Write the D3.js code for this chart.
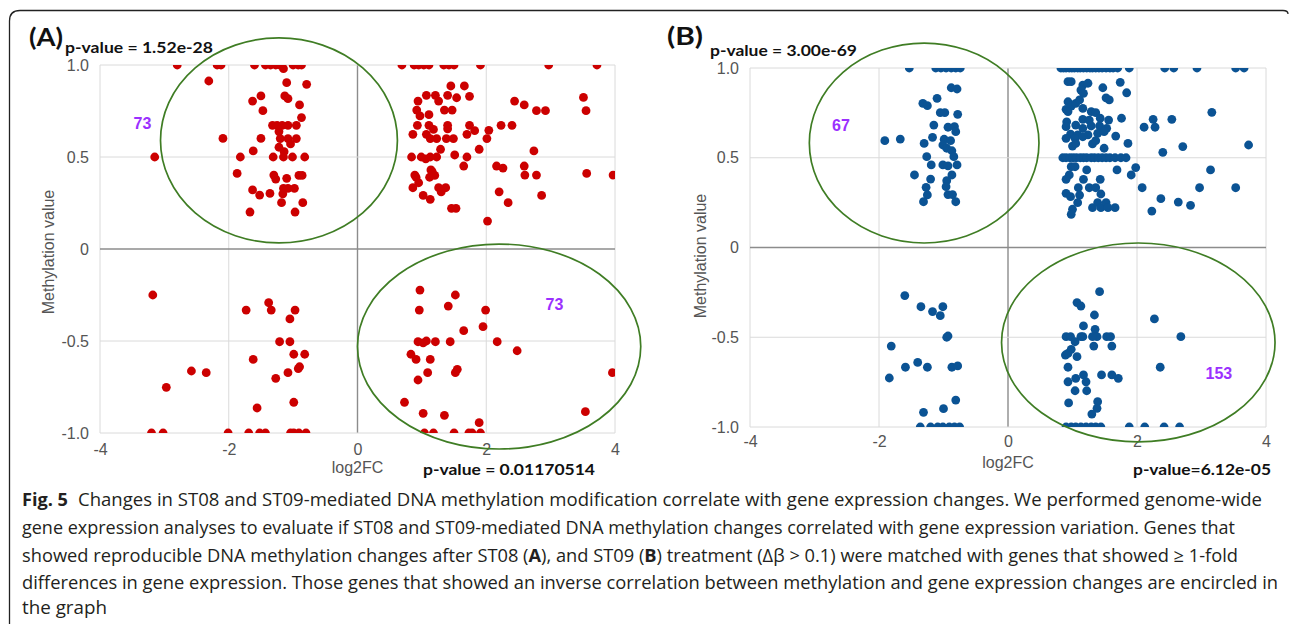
<!DOCTYPE html>
<html><head><meta charset="utf-8">
<script src="https://cdn.jsdelivr.net/npm/d3@7"></script>
<style>
html,body{margin:0;padding:0;background:#fff;}
svg{display:block;}
</style></head>
<body>
<svg id="chart" width="1290" height="624"></svg>
<script>
// ---------------- DATA ----------------
const xTicks = [-4, -2, 0, 2, 4];
const xTickLabels = ["-4", "-2", "0", "2", "4"];
const yTicks = [1, 0.5, 0, -0.5, -1];
const yTickLabels = ["1.0", "0.5", "0", "-0.5", "-1.0"];

// Panel A (ST08): [log2FC, methylation]
const aUpperLeftTopRow = [-2.80, -2.18, -2.12, -1.60, -1.43, -1.35, -1.27, -1.21, -1.00, -0.92, -0.87];
const aUpperLeft = [[-1.15,0.98],[-2.31,0.913],[-1.10,0.904],[-0.79,0.895],[-1.63,0.804],[-1.50,0.832],[-1.13,0.832],[-1.08,0.817],[-0.90,0.783],[-1.47,0.752],[-0.87,0.714],[-1.32,0.672],[-1.25,0.672],[-1.17,0.672],[-1.08,0.672],[-0.95,0.672],[-1.22,0.638],[-2.09,0.601],[-1.50,0.601],[-1.20,0.60],[-1.08,0.60],[-0.95,0.60],[-1.04,0.571],[-1.22,0.553],[-1.62,0.533],[-3.15,0.50],[-1.82,0.50],[-1.31,0.50],[-1.15,0.50],[-1.01,0.50],[-0.82,0.50],[-1.14,0.529],[-1.87,0.411],[-1.30,0.402],[-1.10,0.384],[-0.91,0.40],[-0.86,0.40],[-1.27,0.38],[-1.63,0.321],[-1.52,0.293],[-1.36,0.302],[-1.15,0.33],[-1.08,0.33],[-0.98,0.33],[-1.16,0.30],[-1.18,0.252],[-0.85,0.252],[-1.67,0.201],[-0.97,0.201]];
const aUpperRightTopRow = [0.69, 0.88, 0.95, 1.03, 1.11, 1.34, 1.42, 1.50, 1.91, 2.97, 3.72];
const aUpperRight = [[1.45,0.886],[1.66,0.886],[1.07,0.835],[1.21,0.835],[1.40,0.835],[1.54,0.822],[1.74,0.83],[0.94,0.804],[1.26,0.804],[2.44,0.804],[2.59,0.783],[2.78,0.752],[2.92,0.752],[3.51,0.824],[3.55,0.752],[0.92,0.755],[1.35,0.755],[1.47,0.755],[0.97,0.723],[1.11,0.73],[0.93,0.672],[1.11,0.672],[1.18,0.65],[1.40,0.672],[1.40,0.653],[1.74,0.672],[1.82,0.643],[2.04,0.645],[2.23,0.672],[2.40,0.672],[0.86,0.623],[1.07,0.623],[1.13,0.60],[1.23,0.60],[1.38,0.60],[1.49,0.60],[1.70,0.623],[2.01,0.60],[1.29,0.542],[1.89,0.542],[2.74,0.533],[0.84,0.50],[0.99,0.50],[1.06,0.49],[1.13,0.50],[1.23,0.50],[1.51,0.511],[1.70,0.50],[1.65,0.451],[2.16,0.451],[2.26,0.44],[2.59,0.451],[0.89,0.402],[0.91,0.39],[1.12,0.39],[1.16,0.42],[1.20,0.40],[1.14,0.43],[2.60,0.402],[2.78,0.402],[3.56,0.411],[3.97,0.402],[0.95,0.36],[0.86,0.333],[1.26,0.333],[1.37,0.333],[1.30,0.31],[2.20,0.311],[2.86,0.291],[1.02,0.291],[1.13,0.27],[2.34,0.252],[1.46,0.221],[1.53,0.221],[2.02,0.152]];
const aLowerLeft = [[-3.18,-0.25],[-1.73,-0.332],[-1.38,-0.292],[-1.34,-0.332],[-0.97,-0.332],[-1.05,-0.38],[-1.21,-0.504],[-1.05,-0.504],[-1.62,-0.60],[-0.99,-0.572],[-0.82,-0.572],[-2.58,-0.663],[-2.35,-0.672],[-0.90,-0.64],[-0.92,-0.65],[-1.08,-0.672],[-1.27,-0.703],[-2.97,-0.752],[-0.99,-0.833],[-1.56,-0.864]];
const aLowerLeftBottomRow = [-3.20, -3.02, -2.01, -1.69, -1.52, -1.43, -1.04, -0.99, -0.91, -0.80];
const aLowerRight = [[0.97,-0.223],[1.52,-0.25],[1.41,-0.31],[0.96,-0.332],[1.99,-0.332],[1.95,-0.422],[1.65,-0.444],[0.94,-0.504],[1.02,-0.51],[1.07,-0.50],[1.21,-0.504],[1.44,-0.504],[2.17,-0.504],[2.48,-0.553],[0.83,-0.572],[0.91,-0.60],[1.13,-0.60],[1.09,-0.672],[1.55,-0.654],[1.52,-0.672],[0.94,-0.712],[3.96,-0.672],[0.73,-0.833],[1.02,-0.893],[1.35,-0.904],[1.89,-0.944],[3.54,-0.884]];
const aLowerRightBottomRow = [1.04, 1.18, 1.50, 1.73, 1.78, 1.91];

// Panel B (ST09)
const bUpperLeftTopRow = [-1.53, -1.12, -1.04, -0.96, -0.88, -0.81, -0.74];
const bUpperLeft = [[-0.88,0.89],[-0.79,0.883],[-1.10,0.831],[-1.32,0.803],[-1.25,0.79],[-1.05,0.751],[-0.98,0.751],[-0.78,0.742],[-1.15,0.682],[-0.93,0.67],[-0.83,0.673],[-0.81,0.645],[-1.91,0.595],[-1.67,0.604],[-1.17,0.614],[-1.30,0.58],[-0.99,0.603],[-0.89,0.595],[-1.01,0.571],[-0.95,0.553],[-0.87,0.539],[-0.84,0.506],[-1.26,0.506],[-1.19,0.46],[-1.01,0.46],[-0.93,0.455],[-0.79,0.46],[-1.45,0.404],[-1.20,0.381],[-0.87,0.404],[-0.95,0.372],[-0.96,0.339],[-1.27,0.335],[-1.25,0.293],[-0.93,0.295],[-0.86,0.295],[-1.31,0.255],[-0.81,0.255]];
const bUpperRightTopRow = [0.82, 0.86, 0.90, 0.95, 0.99, 1.03, 1.08, 1.12, 1.17, 1.22, 1.27, 1.31, 1.36, 1.41, 1.46, 1.52, 1.58, 1.63, 1.70, 1.88, 2.43, 2.57, 2.93, 3.53, 3.66];
const bUpperRightHalfRow = [0.85, 0.90, 0.96, 1.01, 1.06, 1.12, 1.17, 1.22, 1.29, 1.34, 1.40, 1.46, 1.52, 1.58, 1.66, 1.75, 1.83];
const bUpperRight = [[0.93,0.924],[0.98,0.924],[1.16,0.905],[1.24,0.915],[1.13,0.877],[1.17,0.859],[1.47,0.89],[1.74,0.92],[1.84,0.862],[1.52,0.834],[1.57,0.822],[0.93,0.812],[0.90,0.77],[0.98,0.788],[1.05,0.803],[1.11,0.822],[1.16,0.775],[1.29,0.757],[1.36,0.751],[0.93,0.757],[1.76,0.72],[2.25,0.714],[2.28,0.67],[2.11,0.67],[2.54,0.714],[3.16,0.753],[0.91,0.70],[1.16,0.714],[1.26,0.71],[1.43,0.72],[1.56,0.71],[0.90,0.673],[1.05,0.682],[1.16,0.664],[1.29,0.677],[1.42,0.677],[1.53,0.664],[0.97,0.632],[1.08,0.627],[1.24,0.627],[1.39,0.636],[1.49,0.645],[0.90,0.608],[1.04,0.608],[1.16,0.617],[1.00,0.565],[1.05,0.58],[1.67,0.621],[1.86,0.58],[1.31,0.577],[1.36,0.595],[1.49,0.553],[2.40,0.53],[2.71,0.562],[3.73,0.571],[1.98,0.445],[0.98,0.45],[1.04,0.45],[1.22,0.432],[1.69,0.432],[1.91,0.404],[3.14,0.432],[0.95,0.404],[0.90,0.38],[1.17,0.38],[1.43,0.38],[1.09,0.333],[1.26,0.333],[1.36,0.333],[2.08,0.333],[2.97,0.333],[3.53,0.333],[0.90,0.302],[0.97,0.283],[1.11,0.292],[1.44,0.298],[2.37,0.272],[2.64,0.253],[2.83,0.235],[2.23,0.203],[1.31,0.222],[1.39,0.25],[1.44,0.222],[1.52,0.25],[1.55,0.222],[1.66,0.222],[1.00,0.213],[0.98,0.185],[1.08,0.25]];
const bLowerLeft = [[-1.60,-0.268],[-1.35,-0.33],[-1.17,-0.357],[-1.01,-0.33],[-1.05,-0.38],[-0.93,-0.493],[-0.95,-0.50],[-1.81,-0.549],[-1.84,-0.727],[-1.59,-0.667],[-1.40,-0.64],[-1.25,-0.667],[-0.87,-0.667],[-0.78,-0.66],[-0.81,-0.85],[-1.00,-0.898],[-1.31,-0.918]];
const bLowerLeftBottomRow = [-1.36, -1.20, -1.09, -1.01, -0.91, -0.83, -0.75];
const bLowerRight = [[1.42,-0.246],[1.07,-0.307],[1.13,-0.326],[1.34,-0.376],[2.27,-0.398],[1.17,-0.437],[1.35,-0.456],[1.38,-0.497],[0.90,-0.497],[0.97,-0.497],[1.13,-0.497],[1.16,-0.497],[1.31,-0.497],[1.53,-0.497],[1.59,-0.497],[2.68,-0.497],[1.04,-0.525],[0.98,-0.567],[1.33,-0.549],[1.61,-0.549],[0.89,-0.599],[0.93,-0.59],[1.07,-0.608],[0.93,-0.667],[2.36,-0.667],[0.93,-0.748],[1.05,-0.729],[1.17,-0.71],[1.21,-0.748],[1.45,-0.71],[1.61,-0.71],[1.71,-0.729],[1.04,-0.798],[1.22,-0.798],[1.39,-0.859],[1.38,-0.896],[1.30,-0.928],[0.94,-0.866]];
const bLowerRightBottomRow = [0.90, 0.98, 1.05, 1.13, 1.21, 1.29, 1.36, 1.44, 1.88, 2.12, 2.42, 2.66];

// Encircled regions [cx, cy, rx, ry] in data units
const aEllipses = [[-1.22, 0.59, 1.84, 0.557], [2.20, -0.53, 2.20, 0.557]];
const bEllipses = [[-1.30, 0.582, 1.78, 0.557], [2.02, -0.529, 2.12, 0.554]];
// count labels [x, y, text]
const aCounts = [[-3.34, 0.685, "73"], [3.06, -0.30, "73"]];
const bCounts = [[-2.59, 0.682, "67"], [3.27, -0.70, "153"]];
const pValuesA = ["p-value = 1.52e-28", "p-value = 0.01170514"];
const pValuesB = ["p-value = 3.00e-69", "p-value=6.12e-05"];
const panelLetters = ["(A)", "(B)"];
const xTitle = "log2FC";
const yTitle = "Methylation value";

const captionLines = [
  "Changes in ST08 and ST09-mediated DNA methylation modification correlate with gene expression changes. We performed genome-wide",
  "gene expression analyses to evaluate if ST08 and ST09-mediated DNA methylation changes correlated with gene expression variation. Genes that",
  "showed reproducible DNA methylation changes after ST08 (|A|), and ST09 (|B|) treatment (Δβ > 0.1) were matched with genes that showed ≥ 1-fold",
  "differences in gene expression. Those genes that showed an inverse correlation between methylation and gene expression changes are encircled in",
  "the graph"
];

// ---------------- DRAW ----------------
const svg = d3.select("#chart");
const ARIAL = "'Liberation Sans', Arial, sans-serif";
const CAL = "Lato, 'Open Sans', sans-serif";

function toPts(pairs, topRow, yRow) {
  return pairs.concat(topRow.map(x => [x, yRow]));
}

const panels = [
  {id:"A", left:100, right:615, top:65, bottom:433, color:"#cc0000",
   pts: [].concat(toPts(aUpperLeft, aUpperLeftTopRow, 1), toPts(aUpperRight, aUpperRightTopRow, 1),
                  toPts(aLowerLeft, aLowerLeftBottomRow, -1), toPts(aLowerRight, aLowerRightBottomRow, -1)),
   ell: aEllipses, counts: aCounts, pv: pValuesA, letter: panelLetters[0],
   letterPos:[29,46,34], pvTop:[65,53,148], pvBot:[423,475,172], xTickBase:455, xTitleBase:473, yTitleX:48, yTitleY:252, yLabX:89},
  {id:"B", left:750, right:1266, top:68, bottom:427, color:"#0b5394",
   pts: [].concat(toPts(bUpperLeft, bUpperLeftTopRow, 1), toPts(bUpperRight, bUpperRightTopRow, 1),
                  bUpperRightHalfRow.map(x => [x, 0.5]),
                  toPts(bLowerLeft, bLowerLeftBottomRow, -1), toPts(bLowerRight, bLowerRightBottomRow, -1)),
   ell: bEllipses, counts: bCounts, pv: pValuesB, letter: panelLetters[1],
   letterPos:[667,45,36], pvTop:[710,56,147], pvBot:[1133,475,138], xTickBase:447, xTitleBase:468, yTitleX:700, yTitleY:256, yLabX:739}
];

// outer frame
svg.append("path")
  .attr("d", "M9.5,624 L9.5,21 Q9.5,10.5 20,10.5 L1283,10.5 Q1288,10.5 1288,14")
  .attr("fill", "none").attr("stroke", "#222").attr("stroke-width", 1.3);

panels.forEach(p => {
  const x = d3.scaleLinear().domain([-4, 4]).range([p.left, p.right]);
  const y = d3.scaleLinear().domain([-1, 1]).range([p.bottom, p.top]);
  const g = svg.append("g");

  // grid
  g.selectAll(".vg").data(xTicks).enter().append("line")
    .attr("x1", d => x(d)).attr("x2", d => x(d)).attr("y1", p.top).attr("y2", p.bottom)
    .attr("stroke", d => d === 0 ? "#8c8c8c" : "#dadada").attr("stroke-width", d => d === 0 ? 1.4 : 1);
  g.selectAll(".hg").data(yTicks).enter().append("line")
    .attr("y1", d => y(d)).attr("y2", d => y(d)).attr("x1", p.left).attr("x2", p.right)
    .attr("stroke", d => d === 0 ? "#8c8c8c" : "#dadada").attr("stroke-width", d => d === 0 ? 1.4 : 1);

  // axes labels via d3 axes
  const xAxis = d3.axisBottom(x).tickValues(xTicks).tickSize(0).tickFormat((d, i) => xTickLabels[i]);
  const gx = g.append("g").attr("transform", `translate(0,${p.xTickBase - 12})`).call(xAxis);
  gx.select(".domain").remove();
  gx.selectAll("text").attr("font-family", ARIAL).attr("font-size", 16).attr("fill", "#555").attr("dy", 0).attr("y", 12);

  const yAxis = d3.axisLeft(y).tickValues(yTicks).tickSize(0).tickFormat((d, i) => yTickLabels[i]);
  const gy = g.append("g").attr("transform", `translate(${p.yLabX},0)`).call(yAxis);
  gy.select(".domain").remove();
  gy.selectAll("text").attr("font-family", ARIAL).attr("font-size", 16).attr("fill", "#555").attr("x", 0);

  // points (clipped)
  svg.append("clipPath").attr("id", "clip" + p.id).append("rect")
    .attr("x", p.left).attr("y", p.top).attr("width", p.right - p.left).attr("height", p.bottom - p.top);
  g.append("g").attr("clip-path", `url(#clip${p.id})`)
    .selectAll("circle").data(p.pts).enter().append("circle")
    .attr("cx", d => x(d[0])).attr("cy", d => y(d[1])).attr("r", 4.4).attr("fill", p.color);

  // ellipses
  g.selectAll(".ell").data(p.ell).enter().append("ellipse")
    .attr("cx", d => x(d[0])).attr("cy", d => y(d[1]))
    .attr("rx", d => x(d[2]) - x(0)).attr("ry", d => y(0) - y(d[3]))
    .attr("fill", "none").attr("stroke", "#3f7d24").attr("stroke-width", 1.7);

  // counts
  g.selectAll(".cnt").data(p.counts).enter().append("text")
    .attr("x", d => x(d[0])).attr("y", d => y(d[1])).attr("dy", "0.35em")
    .attr("text-anchor", "middle").attr("font-family", ARIAL).attr("font-weight", "bold")
    .attr("font-size", 16).attr("fill", "#9b30ff").text(d => d[2]);

  // titles
  g.append("text").attr("x", (p.left + p.right) / 2).attr("y", p.xTitleBase)
    .attr("text-anchor", "middle").attr("font-family", ARIAL).attr("font-size", 16).attr("fill", "#555").text(xTitle);
  g.append("text").attr("transform", `translate(${p.yTitleX},${p.yTitleY}) rotate(-90)`)
    .attr("text-anchor", "middle").attr("dy", "0.35em").attr("font-family", ARIAL).attr("font-size", 16).attr("fill", "#555").text(yTitle);

  // letter and p-values
  g.append("text").attr("x", p.letterPos[0]).attr("y", p.letterPos[1])
    .attr("font-family", CAL).attr("font-weight", "bold").attr("font-size", 24).attr("fill", "#111")
    .attr("textLength", p.letterPos[2]).attr("lengthAdjust", "spacingAndGlyphs").text(p.letter);
  g.append("text").attr("x", p.pvTop[0]).attr("y", p.pvTop[1])
    .attr("font-family", CAL).attr("font-weight", "bold").attr("font-size", 15).attr("fill", "#111")
    .attr("textLength", p.pvTop[2]).attr("lengthAdjust", "spacingAndGlyphs").text(p.pv[0]);
  g.append("text").attr("x", p.pvBot[0]).attr("y", p.pvBot[1])
    .attr("font-family", CAL).attr("font-weight", "bold").attr("font-size", 15).attr("fill", "#111")
    .attr("textLength", p.pvBot[2]).attr("lengthAdjust", "spacingAndGlyphs").text(p.pv[1]);
});

// caption
const CAP = "'Open Sans', 'Noto Sans', sans-serif";
const capBase = [506, 534, 562, 589, 614];
const capX = [78, 22, 22, 22, 22];
const capEnd = [1262, 1235, 1238, 1278, 107];
svg.append("text").attr("x", 22).attr("y", capBase[0]).attr("font-family", CAP).attr("font-weight", "bold")
  .attr("font-size", 18).attr("fill", "#231f20").attr("textLength", 46).attr("lengthAdjust", "spacingAndGlyphs").text("Fig. 5");
captionLines.forEach((line, i) => {
  const t = svg.append("text").attr("x", capX[i]).attr("y", capBase[i]).attr("font-family", CAP)
    .attr("font-size", 18).attr("fill", "#231f20")
    .attr("textLength", capEnd[i] - capX[i]).attr("lengthAdjust", "spacingAndGlyphs");
  line.split("|").forEach((seg, j) => {
    t.append("tspan").attr("font-weight", j % 2 === 1 ? "bold" : "normal").text(seg);
  });
});
</script>
</body></html>
